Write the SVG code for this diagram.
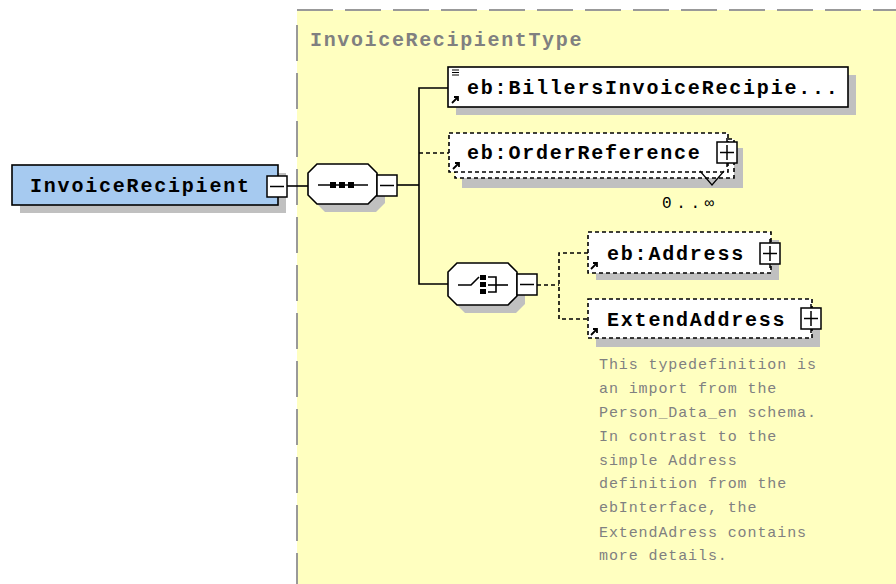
<svg xmlns="http://www.w3.org/2000/svg" width="896" height="584" viewBox="0 0 896 584">
<style>
.bg{fill:#ffffff}
.type{fill:#ffffc0}
.border{stroke:#999999;stroke-width:2;stroke-dasharray:36 12;fill:none}
.shadow{fill:#c0c0c0;stroke:none}
.solid{fill:#ffffff;stroke:#000;stroke-width:1.6}
.dash{fill:#ffffff;stroke:#000;stroke-width:1.6;stroke-dasharray:4 3}
.ln{stroke:#000;stroke-width:1.6;fill:none}
.dln{stroke:#000;stroke-width:1.6;fill:none;stroke-dasharray:4 3}
.nt{font-family:"Liberation Mono","DejaVu Sans Mono",monospace;font-weight:bold;font-size:20px;letter-spacing:1.8px;fill:#000}
.tt{font-family:"Liberation Mono","DejaVu Sans Mono",monospace;font-weight:bold;font-size:20px;letter-spacing:1.65px;fill:#808080}
.doc{font-family:"Liberation Mono","DejaVu Sans Mono",monospace;font-size:15px;letter-spacing:0.9px;fill:#808080}
.occ{font-family:"Liberation Mono","DejaVu Sans Mono",monospace;font-size:16px;letter-spacing:4.6px;fill:#000}
.box{fill:#fff;stroke:#000;stroke-width:1.5}
</style>
<defs>
<g id="arrow"><path d="M0,7 L6,1 M2,1 L6,1 L6,5" stroke="#000" stroke-width="1.8" fill="none"/></g>
<g id="minus"><rect x="0" y="0" width="20" height="21" class="box"/><line x1="3" y1="10.5" x2="17" y2="10.5" stroke="#000" stroke-width="1.5"/></g>
<g id="plus"><line x1="10" y1="-4" x2="10" y2="25" stroke="#000" stroke-width="1.5"/><rect x="0" y="0" width="20" height="21" class="box"/><line x1="3" y1="10.5" x2="17" y2="10.5" stroke="#000" stroke-width="1.5"/><line x1="10" y1="3" x2="10" y2="18" stroke="#000" stroke-width="1.5"/></g>
</defs>
<rect class="bg" x="0" y="0" width="896" height="584"/>
<g id="type-InvoiceRecipientType">
<rect class="type" x="297" y="10" width="599" height="574"/>
<line class="border" x1="297" y1="10" x2="896" y2="10"/>
<line class="border" x1="297" y1="25" x2="297" y2="584"/>
<text class="tt" x="310" y="46">InvoiceRecipientType</text>
</g>
<g id="connectors">
<line class="ln" x1="287" y1="186" x2="308" y2="186"/>
<line class="ln" x1="397" y1="185" x2="419" y2="185"/>
<polyline class="ln" points="448,88 419,88 419,284 448,284"/>
<line class="dln" x1="419" y1="153" x2="449" y2="153"/>
<line class="dln" x1="537" y1="285" x2="559" y2="285"/>
<polyline class="dln" points="588,253 559,253 559,319 588,319"/>
</g>
<g id="node-InvoiceRecipient">
<rect class="shadow" x="20" y="173" width="266" height="40"/>
<rect x="12" y="165" width="266" height="40" fill="#a6caf0" stroke="#000" stroke-width="1.6"/>
<text class="nt" x="30" y="192">InvoiceRecipient</text>
<use href="#minus" x="267" y="176"/>
</g>
<g id="node-sequence">
<polygon class="shadow" points="325,172 376,172 385,181 385,203 376,212 325,212 316,203 316,181"/>
<polygon class="solid" points="317,164 368,164 377,173 377,195 368,204 317,204 308,195 308,173"/>
<line class="ln" x1="318" y1="185" x2="368" y2="185"/>
<rect x="330" y="182" width="6" height="6" fill="#000"/>
<rect x="339" y="182" width="6" height="6" fill="#000"/>
<rect x="348" y="182" width="6" height="6" fill="#000"/>
<use href="#minus" x="377" y="175"/>
</g>
<g id="node-BillersInvoiceRecipient">
<rect class="shadow" x="456" y="75" width="400" height="40"/>
<rect class="solid" x="448" y="67" width="400" height="40"/>
<path d="M452,70 h7 M452,72.5 h7 M452,75 h7" stroke="#000" stroke-width="1.2"/>
<use href="#arrow" x="452" y="96"/>
<text class="nt" x="467" y="94">eb:BillersInvoiceRecipie...</text>
</g>
<g id="node-OrderReference">
<rect class="shadow" x="462" y="148" width="281" height="40"/>
<rect class="dash" x="455" y="139" width="279" height="39"/>
<rect class="dash" x="449" y="133" width="279" height="39"/>
<use href="#arrow" x="453" y="162"/>
<text class="nt" x="467" y="159">eb:OrderReference</text>
<use href="#plus" x="717" y="142"/>
<polyline points="700,171 712,185 724,171" fill="none" stroke="#000" stroke-width="1.2"/>
<text class="occ" x="662" y="208">0..∞</text>
</g>
<g id="node-choice">
<polygon class="shadow" points="465,272 516,272 525,281 525,304 516,313 465,313 456,304 456,281"/>
<polygon class="solid" points="457,263 508,263 517,272 517,296 508,305 457,305 448,296 448,272"/>
<polyline class="ln" points="458,285 471,285 479,277"/>
<rect x="480" y="275" width="6" height="5" fill="#000"/>
<rect x="480" y="282" width="6" height="5" fill="#000"/>
<rect x="480" y="289" width="6" height="5" fill="#000"/>
<polyline class="ln" points="488,277 496,277 496,292 488,292"/>
<line class="ln" x1="488" y1="285" x2="508" y2="285"/>
<use href="#minus" x="517" y="274"/>
</g>
<g id="node-Address">
<rect class="shadow" x="596" y="240" width="183" height="40"/>
<rect class="dash" x="588" y="232" width="183" height="41"/>
<use href="#arrow" x="591" y="262"/>
<text class="nt" x="607" y="260">eb:Address</text>
<use href="#plus" x="760" y="243"/>
</g>
<g id="node-ExtendAddress">
<rect class="shadow" x="596" y="307" width="224" height="40"/>
<rect class="dash" x="588" y="299" width="224" height="39"/>
<use href="#arrow" x="591" y="328"/>
<text class="nt" x="607" y="326">ExtendAddress</text>
<use href="#plus" x="801" y="308"/>
<text class="doc" x="599">
<tspan x="599" y="369">This typedefinition is</tspan>
<tspan x="599" y="393">an import from the</tspan>
<tspan x="599" y="417">Person_Data_en schema.</tspan>
<tspan x="599" y="441">In contrast to the</tspan>
<tspan x="599" y="465">simple Address</tspan>
<tspan x="599" y="488">definition from the</tspan>
<tspan x="599" y="512">ebInterface, the</tspan>
<tspan x="599" y="537">ExtendAdress contains</tspan>
<tspan x="599" y="560">more details.</tspan>
</text>
</g>
</svg>
